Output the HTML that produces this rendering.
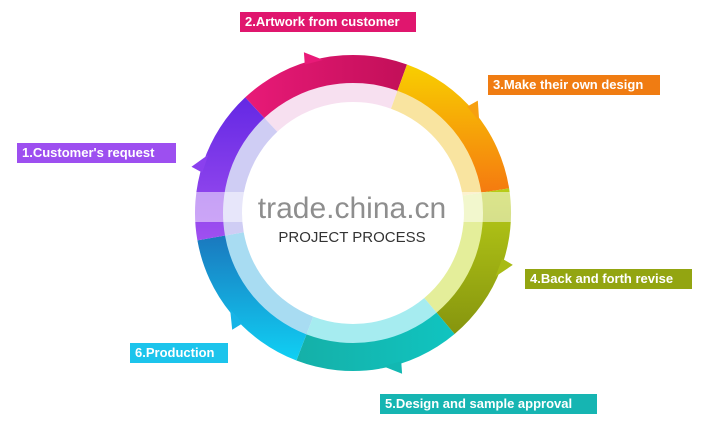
<!DOCTYPE html>
<html><head><meta charset="utf-8"><style>
html,body{margin:0;padding:0;background:#fff;width:715px;height:434px;overflow:hidden;font-family:"Liberation Sans",sans-serif}
.l{position:absolute;color:#fff;font-weight:bold;font-size:13px;line-height:20px;height:20px;padding:0 5px;white-space:nowrap;box-sizing:border-box}
</style></head><body>
<svg id="s" width="715" height="434" style="position:absolute;left:0;top:0">
<defs>
<linearGradient id="gm" x1="0" y1="0" x2="1" y2="0"><stop offset="0" stop-color="#e81a78"/><stop offset="1" stop-color="#c20f58"/></linearGradient>
<linearGradient id="gy" x1="0" y1="0" x2="0" y2="1"><stop offset="0" stop-color="#f8cf00"/><stop offset="1" stop-color="#f57a10"/></linearGradient>
<linearGradient id="gg" x1="0" y1="0" x2="0" y2="1"><stop offset="0" stop-color="#b8cc18"/><stop offset="1" stop-color="#86950e"/></linearGradient>
<linearGradient id="gt" x1="0" y1="0" x2="1" y2="0"><stop offset="0" stop-color="#15b0a8"/><stop offset="1" stop-color="#10c4c0"/></linearGradient>
<linearGradient id="gb" x1="0" y1="0" x2="0" y2="1"><stop offset="0" stop-color="#1a78be"/><stop offset="1" stop-color="#10d0f4"/></linearGradient>
<linearGradient id="gp" x1="0" y1="1" x2="0" y2="0"><stop offset="0" stop-color="#a050f0"/><stop offset="1" stop-color="#6428e4"/></linearGradient>
</defs>
<g id="ring"></g>
<rect x="190" y="192" width="330" height="30" fill="#fff" opacity="0.5"/>
<text x="352" y="218" text-anchor="middle" font-family="Liberation Sans" font-size="30" fill="#8e8e8e">trade.china.cn</text>
<text x="352" y="242" text-anchor="middle" font-family="Liberation Sans" font-size="15" fill="#333">PROJECT PROCESS</text>
</svg>
<div class="l" style="left:240px;top:12px;width:176px;background:#e0166e">2.Artwork from customer</div>
<div class="l" style="left:488px;top:75px;width:172px;background:#f07c12">3.Make their own design</div>
<div class="l" style="left:17px;top:143px;width:159px;background:#9d4ff0">1.Customer's request</div>
<div class="l" style="left:525px;top:269px;width:167px;background:#93a511">4.Back and forth revise</div>
<div class="l" style="left:130px;top:343px;width:98px;background:#1cc4ec">6.Production</div>
<div class="l" style="left:380px;top:394px;width:217px;background:#16b5b2">5.Design and sample approval</div>
<script>
var cx=353,cy=213,R=158,r1=130,r2=111;
function p(r,a){a=a*Math.PI/180;return [(cx+r*Math.sin(a)).toFixed(1),(cy-r*Math.cos(a)).toFixed(1)];}
function arc(ro,ri,a1,a2){var A=p(ro,a1),B=p(ro,a2),C=p(ri,a2),D=p(ri,a1);var lg=(a2-a1)>180?1:0;
return "M"+A+" A"+ro+","+ro+" 0 "+lg+" 1 "+B+" L"+C+" A"+ri+","+ri+" 0 "+lg+" 0 "+D+"Z";}
var segs=[[-43,20,"url(#gm)","#f7e0f0"],[20,81,"url(#gy)","#f9e4a0"],[81,140,"url(#gg)","#e4ee9a"],[140,201,"url(#gt)","#a6ecf0"],[201,260,"url(#gb)","#a8dcf2"],[260,317,"url(#gp)","#cfcdf4"]];
var h="";
segs.forEach(function(s){h+='<path d="'+arc(R,r1-1,s[0],s[1])+'" fill="'+s[2]+'"/>';h+='<path d="'+arc(r1,r2,s[0],s[1])+'" fill="'+s[3]+'"/>';});
var sp=[[-14,"#e81a78"],[51,"#f7a010"],[111,"#a8bb15"],[166,"#12b8b2"],[229,"#16b4e6"],[289,"#8a40ee"]];
sp.forEach(function(s){var a=s[0];var A=p(R-2,a-4),B=p(R-2,a+3),T=p(R+10,a-3);h+='<path d="M'+A+' L'+T+' L'+B+'Z" fill="'+s[1]+'"/>';});
document.getElementById("ring").innerHTML=h;
</script>
</body></html>
